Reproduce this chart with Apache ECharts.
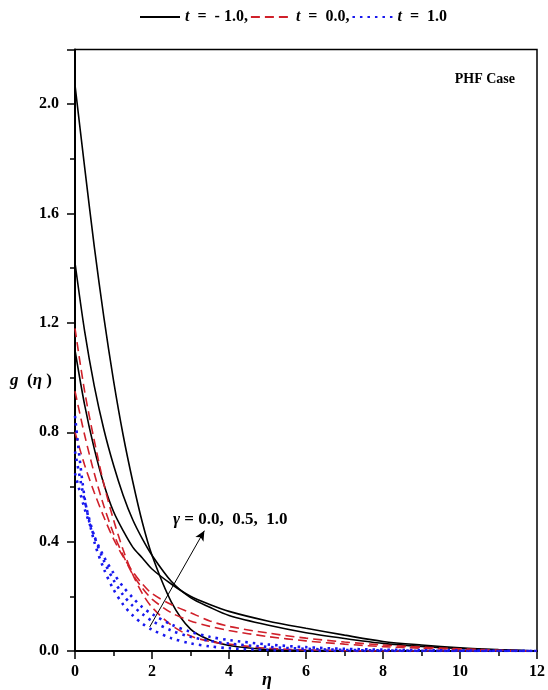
<!DOCTYPE html>
<html>
<head>
<meta charset="utf-8">
<script src="https://cdn.jsdelivr.net/npm/echarts@6/dist/echarts.min.js"></script>
<style>
  html, body { margin: 0; padding: 0; background: #fff; }
  #main { width: 548px; height: 690px; }
</style>
</head>
<body>
<div id="main"></div>
<script>
// eta grid shared by all curves
const eta = [0, 0.25, 0.5, 0.75, 1, 1.25, 1.5, 1.75, 2, 2.5, 3, 3.5, 4, 5, 6, 7, 8, 9, 10, 11, 12];

// t = -1.0 (solid black), gamma = 0.0, 0.5, 1.0
const tm1_g0  = [2.07, 1.77, 1.48, 1.22, 0.99, 0.79, 0.62, 0.47, 0.35, 0.18, 0.08, 0.04, 0.02, 0.005, 0.002, 0.001, 0, 0, 0, 0, 0];
const tm1_g05 = [1.42, 1.17, 0.97, 0.81, 0.68, 0.57, 0.48, 0.41, 0.35, 0.255, 0.195, 0.16, 0.13, 0.095, 0.067, 0.046, 0.028, 0.017, 0.009, 0.004, 0];
const tm1_g1  = [1.10, 0.90, 0.74, 0.61, 0.51, 0.44, 0.38, 0.34, 0.30, 0.245, 0.20, 0.17, 0.145, 0.11, 0.083, 0.058, 0.035, 0.022, 0.012, 0.005, 0];

// t = 0.0 (red dashed)
const t0_g0  = [1.18, 0.95, 0.77, 0.61, 0.48, 0.37, 0.28, 0.21, 0.16, 0.095, 0.055, 0.035, 0.025, 0.01, 0.004, 0.001, 0, 0, 0, 0, 0];
const t0_g05 = [0.95, 0.79, 0.65, 0.53, 0.43, 0.35, 0.28, 0.23, 0.19, 0.14, 0.11, 0.09, 0.075, 0.053, 0.037, 0.025, 0.016, 0.01, 0.006, 0.002, 0];
const t0_g1  = [0.80, 0.68, 0.58, 0.49, 0.41, 0.345, 0.29, 0.245, 0.21, 0.17, 0.14, 0.11, 0.09, 0.066, 0.047, 0.033, 0.022, 0.014, 0.008, 0.003, 0];

// t = 1.0 (blue dotted)
const t1_g0  = [0.86, 0.56, 0.40, 0.30, 0.225, 0.17, 0.13, 0.10, 0.078, 0.047, 0.028, 0.017, 0.01, 0.004, 0.001, 0, 0, 0, 0, 0, 0];
const t1_g05 = [0.73, 0.55, 0.42, 0.33, 0.26, 0.205, 0.165, 0.135, 0.11, 0.075, 0.052, 0.037, 0.027, 0.015, 0.008, 0.004, 0.002, 0.001, 0, 0, 0];
const t1_g1  = [0.65, 0.52, 0.42, 0.345, 0.285, 0.235, 0.195, 0.16, 0.135, 0.097, 0.07, 0.052, 0.04, 0.024, 0.014, 0.008, 0.005, 0.003, 0.002, 0.001, 0];

const legendNames = ['t  =  - 1.0,', 't  =  0.0,', 't  =  1.0'];
const xTicks = [0, 2, 4, 6, 8, 10, 12];
const yTicks = [0.0, 0.4, 0.8, 1.2, 1.6, 2.0];

const serif = 'Liberation Serif';
const red = '#d0202a';
const blue = '#1818ee';

function pairs(ys) {
  return eta.map(function (x, i) { return [x, ys[i]]; });
}

function curve(name, ys, color, type, width) {
  return {
    name: name,
    type: 'line',
    data: pairs(ys),
    symbol: 'none',
    smooth: 0.3,
    lineStyle: { color: color, type: type, width: width },
    itemStyle: { color: color },
    z: 2
  };
}

const chart = echarts.init(document.getElementById('main'));

const series = [
  curve(legendNames[0], tm1_g0, '#000', 'solid', 1.6),
  curve(legendNames[0], tm1_g05, '#000', 'solid', 1.6),
  curve(legendNames[0], tm1_g1, '#000', 'solid', 1.6),
  curve(legendNames[1], t0_g0, red, [9, 5], 1.6),
  curve(legendNames[1], t0_g05, red, [9, 5], 1.6),
  curve(legendNames[1], t0_g1, red, [9, 5], 1.6),
  curve(legendNames[2], t1_g0, blue, [2.5, 5], 2.6),
  curve(legendNames[2], t1_g05, blue, [2.5, 5], 2.6),
  curve(legendNames[2], t1_g1, blue, [2.5, 5], 2.6)
];

// arrow for increasing gamma
series[0].markLine = {
  silent: true,
  symbolSize: [7, 10],
  label: { show: false },
  lineStyle: { color: '#000', width: 1, type: 'solid' },
  data: [[
    { coord: [1.94, 0.088], symbol: 'none' },
    { coord: [3.36, 0.44], symbol: 'arrow' }
  ]]
};

const option = {
  animation: false,
  backgroundColor: '#fff',
  grid: {
    left: 75, right: 9, top: 49.5, bottom: 39,
    show: true, borderColor: '#000', borderWidth: 1.5
  },
  legend: {
    data: legendNames,
    left: 134, top: 4,
    itemWidth: 40, itemHeight: 14, itemGap: 2,
    itemStyle: { opacity: 0 },
    textStyle: {
      fontFamily: serif, fontWeight: 'bold', fontSize: 16, color: '#000',
      rich: {
        it: { fontFamily: serif, fontWeight: 'bold', fontStyle: 'italic', fontSize: 16, color: '#000' }
      }
    },
    formatter: function (name) {
      return '{it|t}' + name.slice(1);
    }
  },
  xAxis: {
    type: 'value',
    min: 0, max: 12, interval: 2,
    axisLine: { show: true, lineStyle: { color: '#000', width: 2 } },
    axisTick: { show: true, length: 8, lineStyle: { color: '#000', width: 1.5 } },
    minorTick: { show: true, splitNumber: 2, length: 5, lineStyle: { color: '#000', width: 1.5 } },
    splitLine: { show: false },
    axisLabel: {
      margin: 13, color: '#000', fontFamily: serif, fontWeight: 'bold', fontSize: 16,
      formatter: function (v) { return xTicks.indexOf(v) >= 0 ? String(v) : ''; }
    }
  },
  yAxis: {
    type: 'value',
    min: 0, max: 2.2, interval: 0.4,
    axisLine: { show: true, lineStyle: { color: '#000', width: 2 } },
    axisTick: { show: true, length: 8, lineStyle: { color: '#000', width: 1.5 } },
    minorTick: { show: true, splitNumber: 2, length: 5, lineStyle: { color: '#000', width: 1.5 } },
    splitLine: { show: false },
    axisLabel: {
      margin: 16, color: '#000', fontFamily: serif, fontWeight: 'bold', fontSize: 16,
      showMaxLabel: false,
      formatter: function (v) {
        const hit = yTicks.some(function (t) { return Math.abs(t - v) < 1e-6; });
        return hit ? v.toFixed(1) : '';
      }
    }
  },
  graphic: [
    {
      type: 'text', left: 10, top: 372,
      style: {
        text: '{it|g}  ({it|η} )',
        fontFamily: serif, fontWeight: 'bold', fontSize: 17, fill: '#000',
        rich: { it: { fontFamily: serif, fontWeight: 'bold', fontStyle: 'italic', fontSize: 17, fill: '#000' } }
      }
    },
    {
      type: 'text', left: 262, top: 671,
      style: { text: 'η', fontFamily: serif, fontWeight: 'bold', fontStyle: 'italic', fontSize: 18, fill: '#000' }
    },
    {
      type: 'text', right: 33, top: 72,
      style: { text: 'PHF Case', fontFamily: serif, fontWeight: 'bold', fontSize: 14, fill: '#000' }
    },
    {
      type: 'text', left: 173, top: 511,
      style: {
        text: '{g|γ} = 0.0,  0.5,  1.0',
        fontFamily: serif, fontWeight: 'bold', fontSize: 17, fill: '#000',
        rich: { g: { fontFamily: serif, fontWeight: 'bold', fontStyle: 'italic', fontSize: 17, fill: '#000' } }
      }
    }
  ],
  series: series
};

chart.setOption(option);
</script>
</body>
</html>
